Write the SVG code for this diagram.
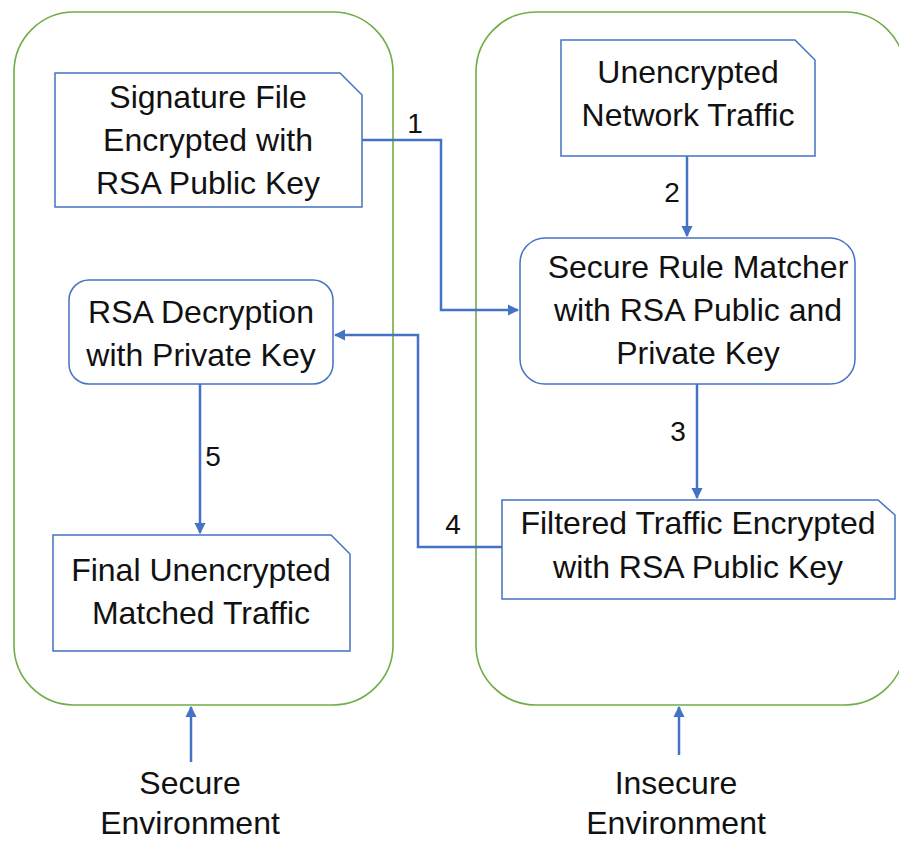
<svg xmlns="http://www.w3.org/2000/svg" width="899" height="844" viewBox="0 0 899 844">
<defs>
<style>
.env{fill:none;stroke:#70AD47;stroke-width:1.6}
.node{fill:#fff;stroke:#4472C4;stroke-width:1.5}
.t{font-family:"Liberation Sans",Arial,sans-serif;font-size:32px;fill:#111;text-anchor:middle}
.n{font-family:"Liberation Sans",Arial,sans-serif;font-size:28px;fill:#111;text-anchor:middle}
.c{fill:none;stroke:#4472C4;stroke-width:2.5}
</style>
<marker id="ah" viewBox="0 0 10 10" refX="9" refY="5" markerWidth="4.5" markerHeight="4.5" orient="auto" markerUnits="strokeWidth">
<path d="M0,0 L10,5 L0,10 z" fill="#4472C4"/>
</marker>
</defs>
<rect width="899" height="844" fill="#fff"/>
<g id="secure-env">
<rect class="env" x="14" y="12" width="379" height="693" rx="60" ry="60"/>
</g>
<g id="insecure-env">
<rect class="env" x="476" y="12" width="429" height="693" rx="60" ry="60"/>
</g>
<g id="signature-file">
<path class="node" d="M55,73 H340 L362,95 V207 H55 Z"/>
<text class="t" x="208" y="108">Signature File</text>
<text class="t" x="208" y="151">Encrypted with</text>
<text class="t" x="208" y="194">RSA Public Key</text>
</g>
<g id="unencrypted-traffic">
<path class="node" d="M561,40 H795 L815,60 V156 H561 Z"/>
<text class="t" x="688" y="83">Unencrypted</text>
<text class="t" x="688" y="126">Network Traffic</text>
</g>
<g id="rule-matcher">
<rect class="node" x="520" y="238" width="335" height="146" rx="25" ry="25"/>
<text class="t" x="698" y="278">Secure Rule Matcher</text>
<text class="t" x="698" y="321">with RSA Public and</text>
<text class="t" x="698" y="364">Private Key</text>
</g>
<g id="rsa-decryption">
<rect class="node" x="69" y="280" width="264" height="104" rx="20" ry="20"/>
<text class="t" x="201" y="323">RSA Decryption</text>
<text class="t" x="201" y="366">with Private Key</text>
</g>
<g id="filtered-traffic">
<path class="node" d="M502,500 H878 L895,515 V599 H502 Z"/>
<text class="t" x="698" y="534">Filtered Traffic Encrypted</text>
<text class="t" x="698" y="578">with RSA Public Key</text>
</g>
<g id="final-traffic">
<path class="node" d="M53,535 H331 L350,554 V651 H53 Z"/>
<text class="t" x="201" y="581">Final Unencrypted</text>
<text class="t" x="201" y="624">Matched Traffic</text>
</g>
<g id="connectors">
<path class="c" d="M362,140 H441 V310 H518" marker-end="url(#ah)"/>
<path class="c" d="M687,156 V236" marker-end="url(#ah)"/>
<path class="c" d="M697,384 V498" marker-end="url(#ah)"/>
<path class="c" d="M502,547 H418 V335 H335" marker-end="url(#ah)"/>
<path class="c" d="M200,384 V533" marker-end="url(#ah)"/>
<path class="c" d="M191,762 V707" marker-end="url(#ah)"/>
<path class="c" d="M679,755 V707" marker-end="url(#ah)"/>
<text class="n" x="415" y="133">1</text>
<text class="n" x="672" y="202">2</text>
<text class="n" x="678" y="441">3</text>
<text class="n" x="453" y="534">4</text>
<text class="n" x="213" y="466">5</text>
</g>
<g id="labels">
<text class="t" x="190" y="794">Secure</text>
<text class="t" x="190" y="834">Environment</text>
<text class="t" x="676" y="794">Insecure</text>
<text class="t" x="676" y="834">Environment</text>
</g>
</svg>
